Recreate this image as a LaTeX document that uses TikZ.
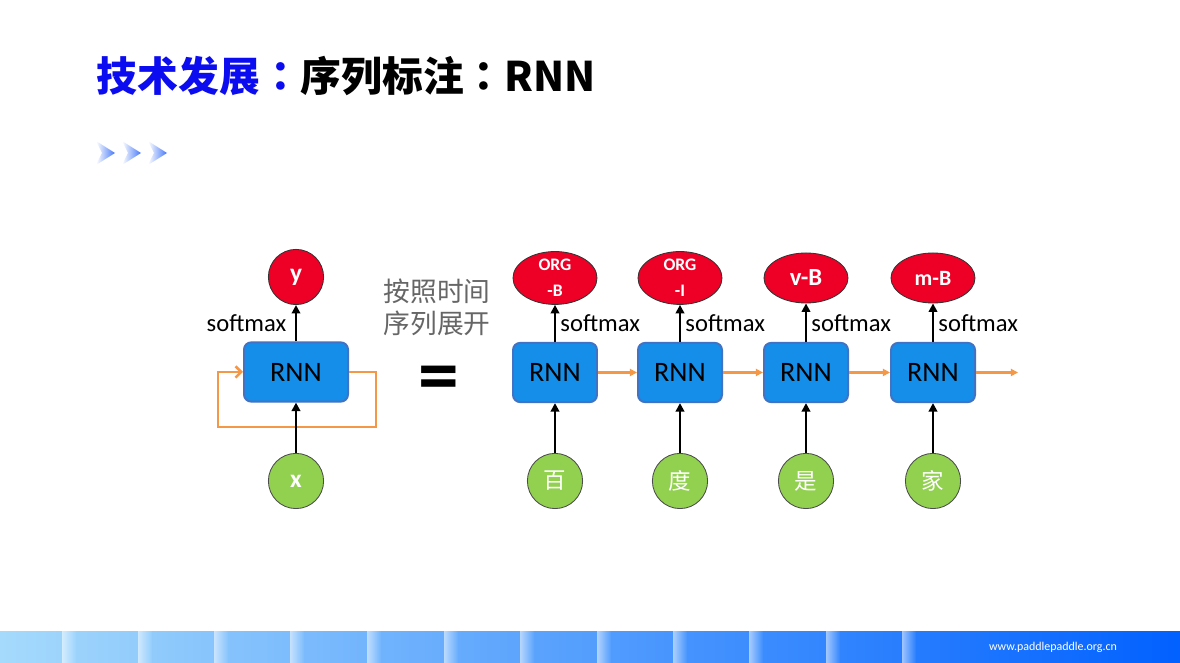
\documentclass[tikz,border=0pt]{standalone}
\usepackage{fontspec}
\setmainfont{Carlito}
\newfontfamily\cjk{Noto Sans CJK SC}
\newfontfamily\cjkpunct{Noto Sans CJK TC}
\usetikzlibrary{arrows.meta,shapes.geometric,positioning}
\definecolor{titleblue}{RGB}{12,12,240}
\definecolor{cellblue}{RGB}{20,142,232}
\definecolor{cellborder}{RGB}{66,114,196}
\definecolor{tagred}{RGB}{238,0,38}
\definecolor{wordgreen}{RGB}{146,208,80}
\definecolor{floworange}{RGB}{244,152,72}
\definecolor{chevblue}{RGB}{70,120,250}
\definecolor{stripL}{RGB}{165,218,252}
\definecolor{stripR}{RGB}{0,96,255}

\begin{document}
\begin{tikzpicture}[x=0.025cm, y=0.025cm,
    rnnbox/.style={draw=cellborder, line width=1.4pt, fill=cellblue, rounded corners=0.18cm,
        minimum width=2.1cm, minimum height=1.48cm, font=\fontsize{20}{22}\selectfont},
    tagnode/.style={ellipse, draw=black!80, line width=0.6pt, fill=tagred, text=white,
        minimum width=2.1cm, minimum height=1.25cm, inner sep=0pt, align=center},
    wordnode/.style={circle, draw=black!70, line width=0.6pt, fill=wordgreen, text=white,
        minimum size=1.38cm, inner sep=0pt},
    softlabel/.style={font=\fontsize{17.5}{20}\selectfont, inner sep=3pt},
    upline/.style={line width=1.8pt, -{Triangle[length=6pt,width=6pt]}},
    flowline/.style={draw=floworange, line width=1.5pt, -{Triangle[length=5pt,width=5pt]}},
    loopline/.style={draw=floworange, line width=1.8pt, -{Straight Barb[length=4pt,width=8pt]}}]
    \useasboundingbox (0,0) rectangle (1180,663);
    \fill[white] (0,0) rectangle (1180,663);

    % Title
    \node[anchor=west, font=\cjk\bfseries\fontsize{29}{32}\selectfont] (title) at (92,587)
        {\textcolor{titleblue}{技术发展{\cjkpunct ：}}序列标注{\cjkpunct ：}RNN};
    \foreach \cx in {96,122,148} {
        \shade[left color=white, right color=chevblue] (\cx,522) -- (\cx+19,510) -- (\cx,498) -- (\cx+6,510) -- cycle;
    }

    % Folded RNN
    \node[rnnbox, minimum width=2.6cm] (lrnn) at (296,291) {RNN};
    \node[wordnode, font=\bfseries\fontsize{18}{20}\selectfont] (lx) at (296,182) {x};
    \node[wordnode, fill=tagred, draw=black!80, font=\bfseries\fontsize{18}{20}\selectfont] (ly) at (296,386) {y};
    \draw[loopline] (lrnn.east) -- ++(27,0) -- ++(0,-55) -- ++(-158,0) -- ++(0,55) -- (lrnn.west);
    \draw[upline] (lx) -- (lrnn);
    \draw[upline] (lrnn) -- node[left, softlabel, xshift=-3pt] {softmax} (ly);

    % Unrolled over time
    \node[text=black!60, font=\cjk\fontsize{19}{22.7}\selectfont, align=center] (unroll) at (437,356) {按照时间\\序列展开};
    \node[anchor=base, font=\bfseries\fontsize{58}{58}\selectfont] (equal) at (439,260) {=};

    \foreach \i/\xc/\tsize/\tag/\word in {1/555/12.5/{ORG\\-B}/百, 2/680/12.5/{ORG\\-I}/度,
                                          3/806/17.5/v-B/是, 4/933/15.5/m-B/家} {
        \node[rnnbox] (rnn\i) at (\xc,290.5) {RNN};
        \node[tagnode, font=\bfseries\fontsize{\tsize}{18.4}\selectfont] (tag\i) at (\xc,385) {\tag};
        \node[wordnode, font=\cjk\fontsize{16}{18}\selectfont] (word\i) at (\xc,182) {\word};
        \draw[upline] (word\i) -- (rnn\i);
        \draw[upline] (rnn\i) -- node[right, softlabel] {softmax} (tag\i);
    }
    \foreach \i/\j in {1/2, 2/3, 3/4} {
        \draw[flowline] (rnn\i) -- (rnn\j);
    }
    \coordinate (rnnout) at (1018,290.5);
    \draw[flowline] (rnn4) -- (rnnout);

    % Footer strip
    \foreach \xs/\xe in {0/62, 62/138, 138/214, 214/290, 290/367, 367/444, 444/520,
                         520/597, 597/673, 673/749, 749/826, 826/902, 902/1180} {
        \pgfmathtruncatemacro\pa{\xs/11.8}
        \pgfmathtruncatemacro\pb{\xe/11.8}
        \colorlet{segA}{stripR!\pa!stripL}
        \colorlet{segB}{stripR!\pb!stripL}
        \shade[left color=segA, right color=segB] (\xs,0) rectangle (\xe,31);
        \ifnum\xs>0
            \shade[left color=white!55!segA, right color=segA] (\xs,0) rectangle (\xs+14,31);
        \fi
    }
    \node[text=white, font=\fontsize{8.5}{10}\selectfont] (site) at (1053,16) {www.paddlepaddle.org.cn};
\end{tikzpicture}
\end{document}
